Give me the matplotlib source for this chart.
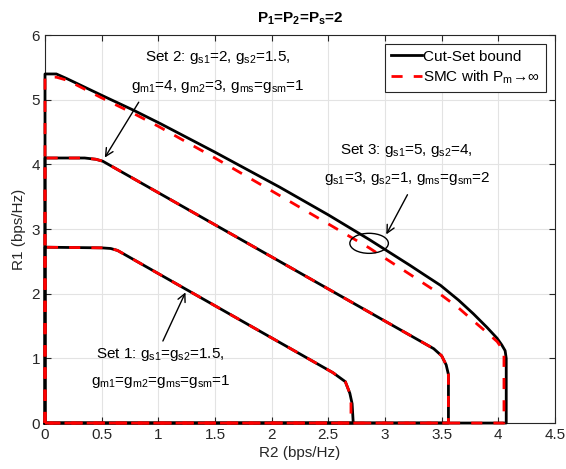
import matplotlib
matplotlib.use("Agg")
import matplotlib.pyplot as plt
from matplotlib.patches import Ellipse

plt.rcParams['font.family'] = ['Liberation Sans', 'DejaVu Sans']
plt.rcParams['mathtext.fontset'] = 'custom'
plt.rcParams['mathtext.rm'] = 'Liberation Sans'
plt.rcParams['mathtext.it'] = 'Liberation Sans'
plt.rcParams['mathtext.bf'] = 'Liberation Sans:bold'
plt.rcParams['mathtext.default'] = 'regular'

# -----------------------
# DATA (R2, R1)
# -----------------------
set1_cut_r2 = [0, 0, 0.50, 0.58, 0.64, 2.54, 2.65, 2.69, 2.71, 2.72, 0]
set1_cut_r1 = [0, 2.72, 2.71, 2.70, 2.67, 0.78, 0.64, 0.46, 0.30, 0, 0]
set1_smc_r2 = [0, 0, 0.50, 0.58, 0.64, 2.54, 2.65, 2.69, 2.70, 2.70, 0]
set1_smc_r1 = [0, 2.72, 2.71, 2.70, 2.67, 0.78, 0.64, 0.46, 0.30, 0, 0]

set2_cut_r2 = [0, 0, 0.35, 0.45, 0.51, 3.43, 3.50, 3.54, 3.56, 3.56, 0]
set2_cut_r1 = [0, 4.10, 4.10, 4.08, 4.05, 1.15, 1.04, 0.90, 0.75, 0, 0]
set2_smc_r2 = [0, 0, 0.35, 0.45, 0.51, 3.43, 3.50, 3.54, 3.56, 3.56, 0]
set2_smc_r1 = [0, 4.10, 4.10, 4.08, 4.05, 1.15, 1.04, 0.90, 0.75, 0, 0]

set3_cut_r2 = [0, 0, 0.10, 0.19, 0.50, 0.78, 1.02, 1.50, 2.07, 2.50, 2.86,
               3.22, 3.35, 3.49, 3.65, 3.78, 3.90, 3.99, 4.03, 4.06, 4.07, 4.07, 0]
set3_cut_r1 = [0, 5.40, 5.40, 5.33, 5.07, 4.84, 4.63, 4.19, 3.65, 3.22, 2.84,
               2.44, 2.29, 2.13, 1.90, 1.69, 1.48, 1.31, 1.21, 1.12, 1.00, 0, 0]
set3_smc_r2 = [0, 0, 0.10, 0.20, 0.50, 0.78, 1.00, 1.50, 2.07, 2.50, 2.86,
               3.22, 3.49, 3.65, 3.78, 3.90, 3.99, 4.03, 4.05, 4.05, 0]
set3_smc_r1 = [0, 5.35, 5.35, 5.30, 5.03, 4.79, 4.59, 4.10, 3.52, 3.08, 2.71,
               2.30, 1.99, 1.78, 1.58, 1.40, 1.26, 1.16, 1.05, 0, 0]

x_ticks = [0, 0.5, 1, 1.5, 2, 2.5, 3, 3.5, 4, 4.5]
x_labels = ['0', '0.5', '1', '1.5', '2', '2.5', '3', '3.5', '4', '4.5']
y_ticks = [0, 1, 2, 3, 4, 5, 6]

# -----------------------
# FIGURE
# -----------------------
fig = plt.figure(figsize=(5.66, 4.69), dpi=100)
ax = fig.add_axes([0.0795, 0.098, 0.901, 0.827])

edge = '#262626'
for s in ax.spines.values():
    s.set_color(edge)
    s.set_linewidth(0.8)

ax.grid(True, color='#e3e3e3', linewidth=0.8)
ax.set_axisbelow(True)

cuts = [(set1_cut_r2, set1_cut_r1), (set2_cut_r2, set2_cut_r1), (set3_cut_r2, set3_cut_r1)]
smcs = [(set1_smc_r2, set1_smc_r1), (set2_smc_r2, set2_smc_r1), (set3_smc_r2, set3_smc_r1)]

for i, (x, y) in enumerate(cuts):
    ax.plot(x, y, color='black', linewidth=2, solid_joinstyle='round',
            label='Cut-Set bound' if i == 0 else None, clip_on=False, zorder=3)
for i, (x, y) in enumerate(smcs):
    ax.plot(x, y, color='red', linewidth=2, dashes=(4, 4),
            label='SMC with P$_m$→∞' if i == 0 else None,
            clip_on=False, zorder=4)

ax.set_xlim(0, 4.5)
ax.set_ylim(0, 6)
ax.set_xticks(x_ticks)
ax.set_xticklabels(x_labels)
ax.set_yticks(y_ticks)
ax.tick_params(direction='in', top=True, right=True, length=4, width=0.8,
               colors=edge, labelsize=11, labelcolor=edge)

ax.set_xlabel('R2 (bps/Hz)', fontsize=11, color=edge, labelpad=3)
ax.set_ylabel('R1 (bps/Hz)', fontsize=11, color=edge, labelpad=4)
ax.set_title(r'P$_\mathbf{1}$=P$_\mathbf{2}$=P$_\mathbf{s}$=2', fontsize=11,
             fontweight='bold', pad=9)

leg = ax.legend(loc='upper right', fontsize=11, handlelength=2.0, handletextpad=0.1,
                borderpad=0.4, labelspacing=0.3, fancybox=False, framealpha=1,
                bbox_to_anchor=(0.982, 0.978), borderaxespad=0)
leg.get_frame().set_edgecolor(edge)
leg.get_frame().set_linewidth(0.8)

# -----------------------
# ANNOTATIONS
# -----------------------
fs = 11
ax.text(1.52, 5.65, r'Set 2: g$_{s1}$=2, g$_{s2}$=1.5,', ha='center', va='center', fontsize=fs)
ax.text(1.52, 5.21, r'g$_{m1}$=4, g$_{m2}$=3, g$_{ms}$=g$_{sm}$=1', ha='center', va='center', fontsize=fs)
ax.annotate('', xy=(0.515, 4.07), xytext=(0.84, 5.00),
            arrowprops=dict(arrowstyle='->', lw=1, color='black', mutation_scale=14))

ax.text(3.19, 4.22, r'Set 3: g$_{s1}$=5, g$_{s2}$=4,', ha='center', va='center', fontsize=fs)
ax.text(3.20, 3.79, r'g$_{s1}$=3, g$_{s2}$=1, g$_{ms}$=g$_{sm}$=2', ha='center', va='center', fontsize=fs)
ax.annotate('', xy=(3.00, 2.88), xytext=(3.21, 3.57),
            arrowprops=dict(arrowstyle='->', lw=1, color='black', mutation_scale=14))
ax.add_patch(Ellipse((2.86, 2.78), 0.34, 0.31, fill=False, edgecolor='black', lw=1, zorder=5))

ax.text(1.02, 1.06, r'Set 1: g$_{s1}$=g$_{s2}$=1.5,', ha='center', va='center', fontsize=fs)
ax.text(1.02, 0.64, r'g$_{m1}$=g$_{m2}$=g$_{ms}$=g$_{sm}$=1', ha='center', va='center', fontsize=fs)
ax.annotate('', xy=(1.25, 2.06), xytext=(1.03, 1.23),
            arrowprops=dict(arrowstyle='->', lw=1, color='black', mutation_scale=14))

fig.savefig('out.png', dpi=100)
